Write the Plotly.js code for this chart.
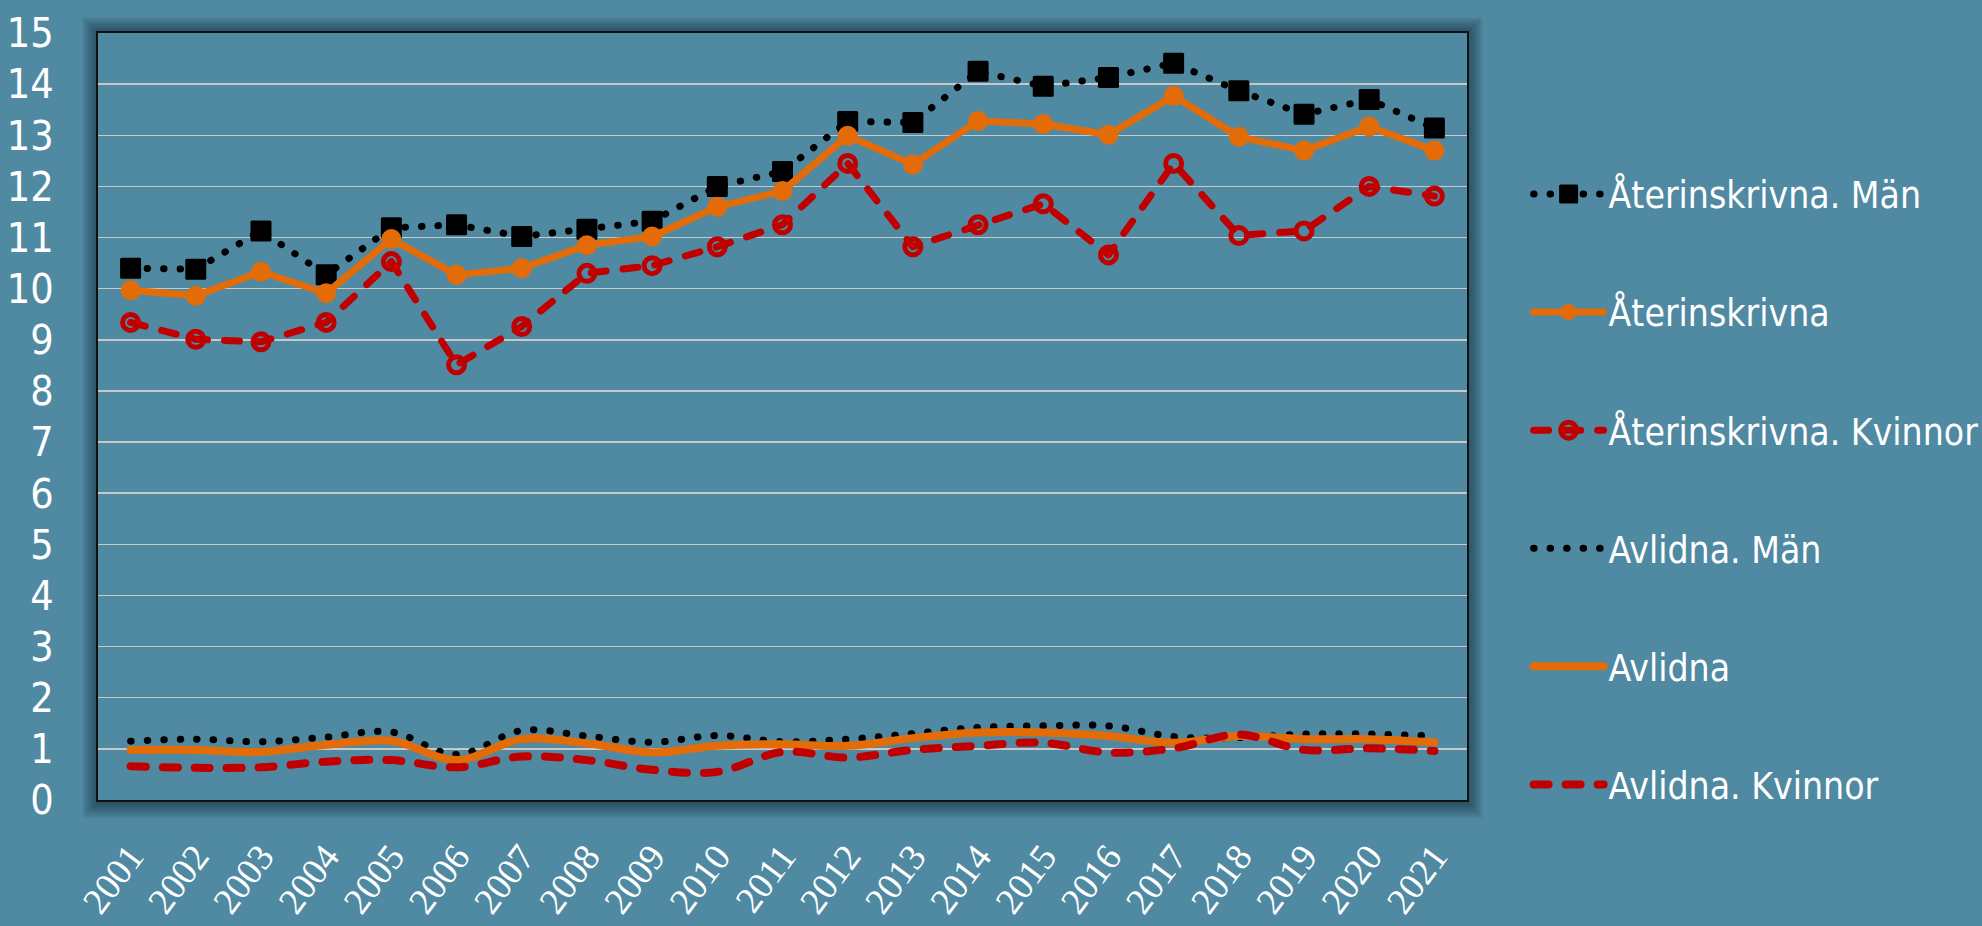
<!DOCTYPE html>
<html>
<head>
<meta charset="utf-8">
<script src="https://cdn.plot.ly/plotly-3.0.1.min.js"></script>
<style>
  html, body { margin: 0; padding: 0; background: #5089a2; }
  .scatterlayer path.js-line, .legend path.js-line { stroke-linecap: round; stroke-linejoin: round; }
  .scatterlayer path.point, .legend path.scatterpts { stroke-linejoin: round; }
</style>
</head>
<body>
<div id="chart" style="width:1982px;height:926px;"></div>
<script>
const years = ['2001','2002','2003','2004','2005','2006','2007','2008','2009','2010','2011',
               '2012','2013','2014','2015','2016','2017','2018','2019','2020','2021'];

const seriesNames = ['Återinskrivna. Män', 'Återinskrivna', 'Återinskrivna. Kvinnor',
                     'Avlidna. Män', 'Avlidna', 'Avlidna. Kvinnor'];

const aterMan = [10.40, 10.38, 11.13, 10.27, 11.19, 11.25, 11.02, 11.16, 11.32, 12.00, 12.29,
                 13.27, 13.25, 14.25, 13.96, 14.13, 14.41, 13.87, 13.41, 13.70, 13.14];
const ater    = [9.97, 9.86, 10.33, 9.91, 10.97, 10.27, 10.40, 10.85, 11.02, 11.60, 11.91,
                 12.99, 12.43, 13.28, 13.22, 13.01, 13.77, 12.97, 12.70, 13.17, 12.70];
const aterKv  = [9.34, 9.01, 8.96, 9.34, 10.53, 8.51, 9.26, 10.30, 10.45, 10.82, 11.25,
                 12.45, 10.82, 11.25, 11.66, 10.66, 12.45, 11.04, 11.13, 12.00, 11.81];

const avlMan  = [1.15, 1.19, 1.14, 1.23, 1.33, 0.89, 1.36, 1.25, 1.13, 1.26, 1.14,
                 1.19, 1.30, 1.42, 1.45, 1.45, 1.24, 1.22, 1.29, 1.29, 1.25];
const avl     = [0.98, 0.98, 0.94, 1.08, 1.16, 0.78, 1.19, 1.11, 0.93, 1.06, 1.09,
                 1.06, 1.21, 1.32, 1.32, 1.25, 1.12, 1.25, 1.19, 1.19, 1.13];
const avlKv   = [0.66, 0.63, 0.64, 0.75, 0.78, 0.64, 0.85, 0.78, 0.59, 0.55, 0.94,
                 0.83, 0.98, 1.06, 1.12, 0.93, 1.01, 1.28, 0.98, 1.01, 0.96];

const BLACK = '#000000', ORANGE = '#E36C09', RED = '#C00000';
const DOT = '0.5px,16px', DASH = '15px,17px';

const traces = [
  { name: seriesNames[0], y: aterMan, mode: 'lines+markers',
    line: { color: BLACK, width: 7, dash: DOT },
    marker: { symbol: 'square', size: 18, color: BLACK, line: { color: BLACK, width: 3 } } },
  { name: seriesNames[1], y: ater, mode: 'lines+markers',
    line: { color: ORANGE, width: 7 },
    marker: { symbol: 'circle', size: 20, color: ORANGE } },
  { name: seriesNames[2], y: aterKv, mode: 'lines+markers',
    line: { color: RED, width: 7, dash: DASH },
    marker: { symbol: 'circle-open', size: 16, color: RED, line: { color: RED, width: 5 } } },
  { name: seriesNames[3], y: avlMan, mode: 'lines',
    line: { color: BLACK, width: 7, dash: DOT, shape: 'spline', smoothing: 1 } },
  { name: seriesNames[4], y: avl, mode: 'lines',
    line: { color: ORANGE, width: 8, shape: 'spline', smoothing: 1 } },
  { name: seriesNames[5], y: avlKv, mode: 'lines',
    line: { color: RED, width: 8, dash: DASH, shape: 'spline', smoothing: 1 } }
].map((t, i) => Object.assign({ type: 'scatter', x: years, legendgroup: 'g' + i, hoverinfo: 'none' }, t));

// shadow around the plot frame (paper coordinates), then plot background on top of it
const W = 1369, H = 767;
const shapes = [];
for (let i = 7; i >= 1; i--) {
  const dx = (i * 2.2) / W, dy = (i * 2.2) / H;
  shapes.push({ type: 'rect', xref: 'paper', yref: 'paper', layer: 'below',
    x0: -dx, x1: 1 + dx, y0: -dy - 2 / H, y1: 1 + dy,
    fillcolor: 'rgba(10,30,40,0.09)', line: { width: 0 } });
}
shapes.push({ type: 'rect', xref: 'paper', yref: 'paper', layer: 'below',
  x0: 0, x1: 1, y0: 0, y1: 1, fillcolor: '#5089a2', line: { width: 0 } });

const COND = '"DejaVu Sans Condensed", "DejaVu Sans", sans-serif';

const layout = {
  width: 1982, height: 926,
  margin: { l: 98, r: 515, t: 33, b: 126, pad: 0, autoexpand: false },
  paper_bgcolor: '#5089a2',
  plot_bgcolor: 'rgba(0,0,0,0)',
  showlegend: true,
  shapes: shapes,
  xaxis: {
    type: 'category', range: [-0.5, 20.5], automargin: false,
    showgrid: false, zeroline: false,
    showline: true, linecolor: '#111', linewidth: 2, mirror: true,
    ticks: '', tickangle: -53,
    tickfont: { family: '"Liberation Serif", "DejaVu Serif", serif', size: 37, color: '#ffffff' },
    ticklabelstandoff: 18, ticklabelshift: 0
  },
  yaxis: {
    range: [0, 15], dtick: 1, tick0: 0, automargin: false,
    showgrid: true, gridcolor: '#c8c8c8', gridwidth: 1.5,
    zeroline: false,
    showline: true, linecolor: '#111', linewidth: 2, mirror: true,
    ticks: '',
    tickfont: { family: COND, size: 41, color: '#ffffff' },
    ticklabelstandoff: 34
  },
  legend: {
    x: 1.045, xanchor: 'left', y: 0.83, yanchor: 'top',
    bgcolor: 'rgba(0,0,0,0)', borderwidth: 0,
    traceorder: 'grouped', tracegroupgap: 67,
    itemwidth: 70, itemsizing: 'trace',
    font: { family: COND, size: 37, color: '#ffffff' }
  }
};

Plotly.newPlot('chart', traces, layout, { displayModeBar: false, staticPlot: true });
</script>
</body>
</html>
